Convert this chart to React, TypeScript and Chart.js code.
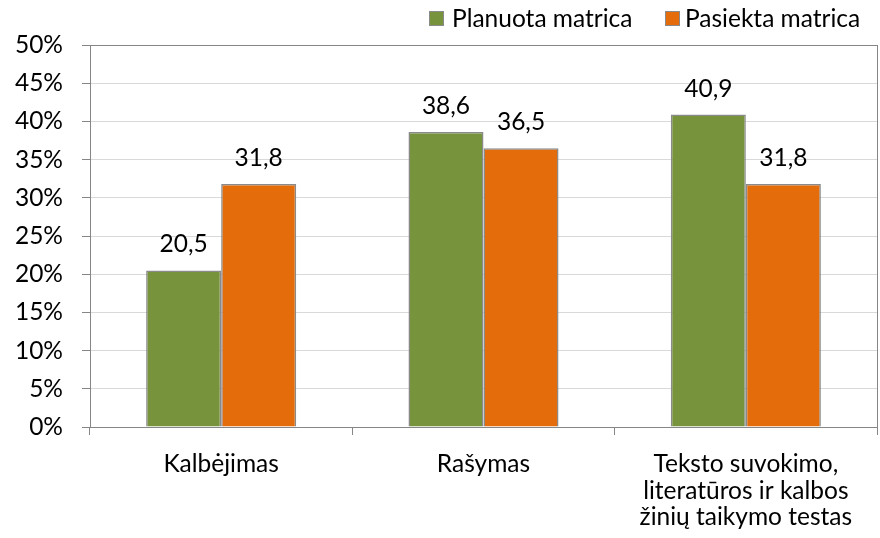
import React, { useEffect, useRef } from "react";
import { Chart, registerables } from "chart.js";

Chart.register(...registerables);

const categories: (string | string[])[] = [
  "Kalbėjimas",
  "Rašymas",
  ["Teksto suvokimo,", "literatūros ir kalbos", "žinių taikymo testas"],
];
const seriesNames = ["Planuota matrica", "Pasiekta matrica"];
const planuota = [20.5, 38.6, 40.9];
const pasiekta = [31.8, 36.5, 31.8];
const seriesColors = ["#77933C", "#E46C0A"];
const yMin = 0;
const yMax = 50;
const yStep = 5;

const FONT = "Lato, 'Open Sans', sans-serif";
const FONT_SIZE = 24.5;

export default function App() {
  const ref = useRef<HTMLCanvasElement | null>(null);

  useEffect(() => {
    if (!ref.current) return;

    const overlay = {
      id: "overlay",
      afterDraw(chart: any) {
        const ctx = chart.ctx;
        const area = chart.chartArea;
        ctx.save();
        // right border of plot area
        ctx.strokeStyle = "#868686";
        ctx.lineWidth = 1;
        ctx.beginPath();
        ctx.moveTo(Math.round(area.right) + 0.5, area.top);
        ctx.lineTo(Math.round(area.right) + 0.5, area.bottom);
        ctx.stroke();

        // data labels
        ctx.fillStyle = "#000";
        ctx.font = `${FONT_SIZE}px ${FONT}`;
        ctx.textAlign = "center";
        ctx.textBaseline = "alphabetic";
        chart.data.datasets.forEach((ds: any, di: number) => {
          const meta = chart.getDatasetMeta(di);
          meta.data.forEach((bar: any, i: number) => {
            const v = ds.data[i] as number;
            const txt = v.toFixed(1).replace(".", ",");
            ctx.fillText(txt, bar.x, bar.y - 18);
          });
        });

        // legend
        const boxes = [429, 665];
        const texts = [452, 685];
        ctx.textAlign = "left";
        ctx.textBaseline = "middle";
        seriesNames.forEach((name, i) => {
          ctx.fillStyle = seriesColors[i];
          ctx.fillRect(boxes[i], 11, 14, 14);
          ctx.strokeStyle = "#8a8a8a";
          ctx.lineWidth = 1;
          ctx.strokeRect(boxes[i] + 0.5, 11.5, 14, 14);
          ctx.fillStyle = "#000";
          ctx.fillText(name, texts[i], 19);
        });
        ctx.restore();
      },
    };

    const chart = new Chart(ref.current, {
      type: "bar",
      data: {
        labels: categories as any,
        datasets: [
          {
            label: seriesNames[0],
            data: planuota,
            backgroundColor: seriesColors[0],
            borderColor: "#8a8a8a",
            borderWidth: 1.5,
            categoryPercentage: 0.572,
            barPercentage: 1.0,
          },
          {
            label: seriesNames[1],
            data: pasiekta,
            backgroundColor: seriesColors[1],
            borderColor: "#8a8a8a",
            borderWidth: 1.5,
            categoryPercentage: 0.572,
            barPercentage: 1.0,
          },
        ],
      },
      options: {
        responsive: false,
        animation: false,
        layout: { padding: { top: 45, right: 3, left: 0, bottom: 0 } },
        plugins: {
          legend: { display: false },
          tooltip: { enabled: false },
        },
        scales: {
          x: {
            offset: true,
            grid: {
              offset: true,
              drawOnChartArea: false,
              drawTicks: true,
              tickLength: 8,
              color: "#868686",
              tickColor: "#868686",
            },
            border: { color: "#868686", width: 1 },
            ticks: {
              color: "#000",
              font: { family: FONT, size: FONT_SIZE, lineHeight: 26.5 / FONT_SIZE },
              padding: 16,
              maxRotation: 0,
              autoSkip: false,
            },
            afterFit: (scale: any) => {
              scale.height = 111;
            },
          },
          y: {
            min: yMin,
            max: yMax,
            ticks: {
              stepSize: yStep,
              color: "#000",
              font: { family: FONT, size: FONT_SIZE },
              padding: 19,
              callback: (v: any) => `${v}%`,
            },
            grid: {
              color: (c: any) => (c.tick && c.tick.value === yMax ? "#868686" : "#d9d9d9"),
              tickColor: "#868686",
              tickLength: 8,
              lineWidth: 1,
            },
            border: { color: "#868686", width: 1 },
            afterFit: (scale: any) => {
              scale.width = 90;
            },
          },
        },
      },
      plugins: [overlay],
    });

    return () => chart.destroy();
  }, []);

  return (
    <div style={{ position: "absolute", left: 0, top: 0, width: 880, height: 538, background: "#fff" }}>
      <canvas ref={ref} width={880} height={538} style={{ width: 880, height: 538, display: "block" }} />
    </div>
  );
}
